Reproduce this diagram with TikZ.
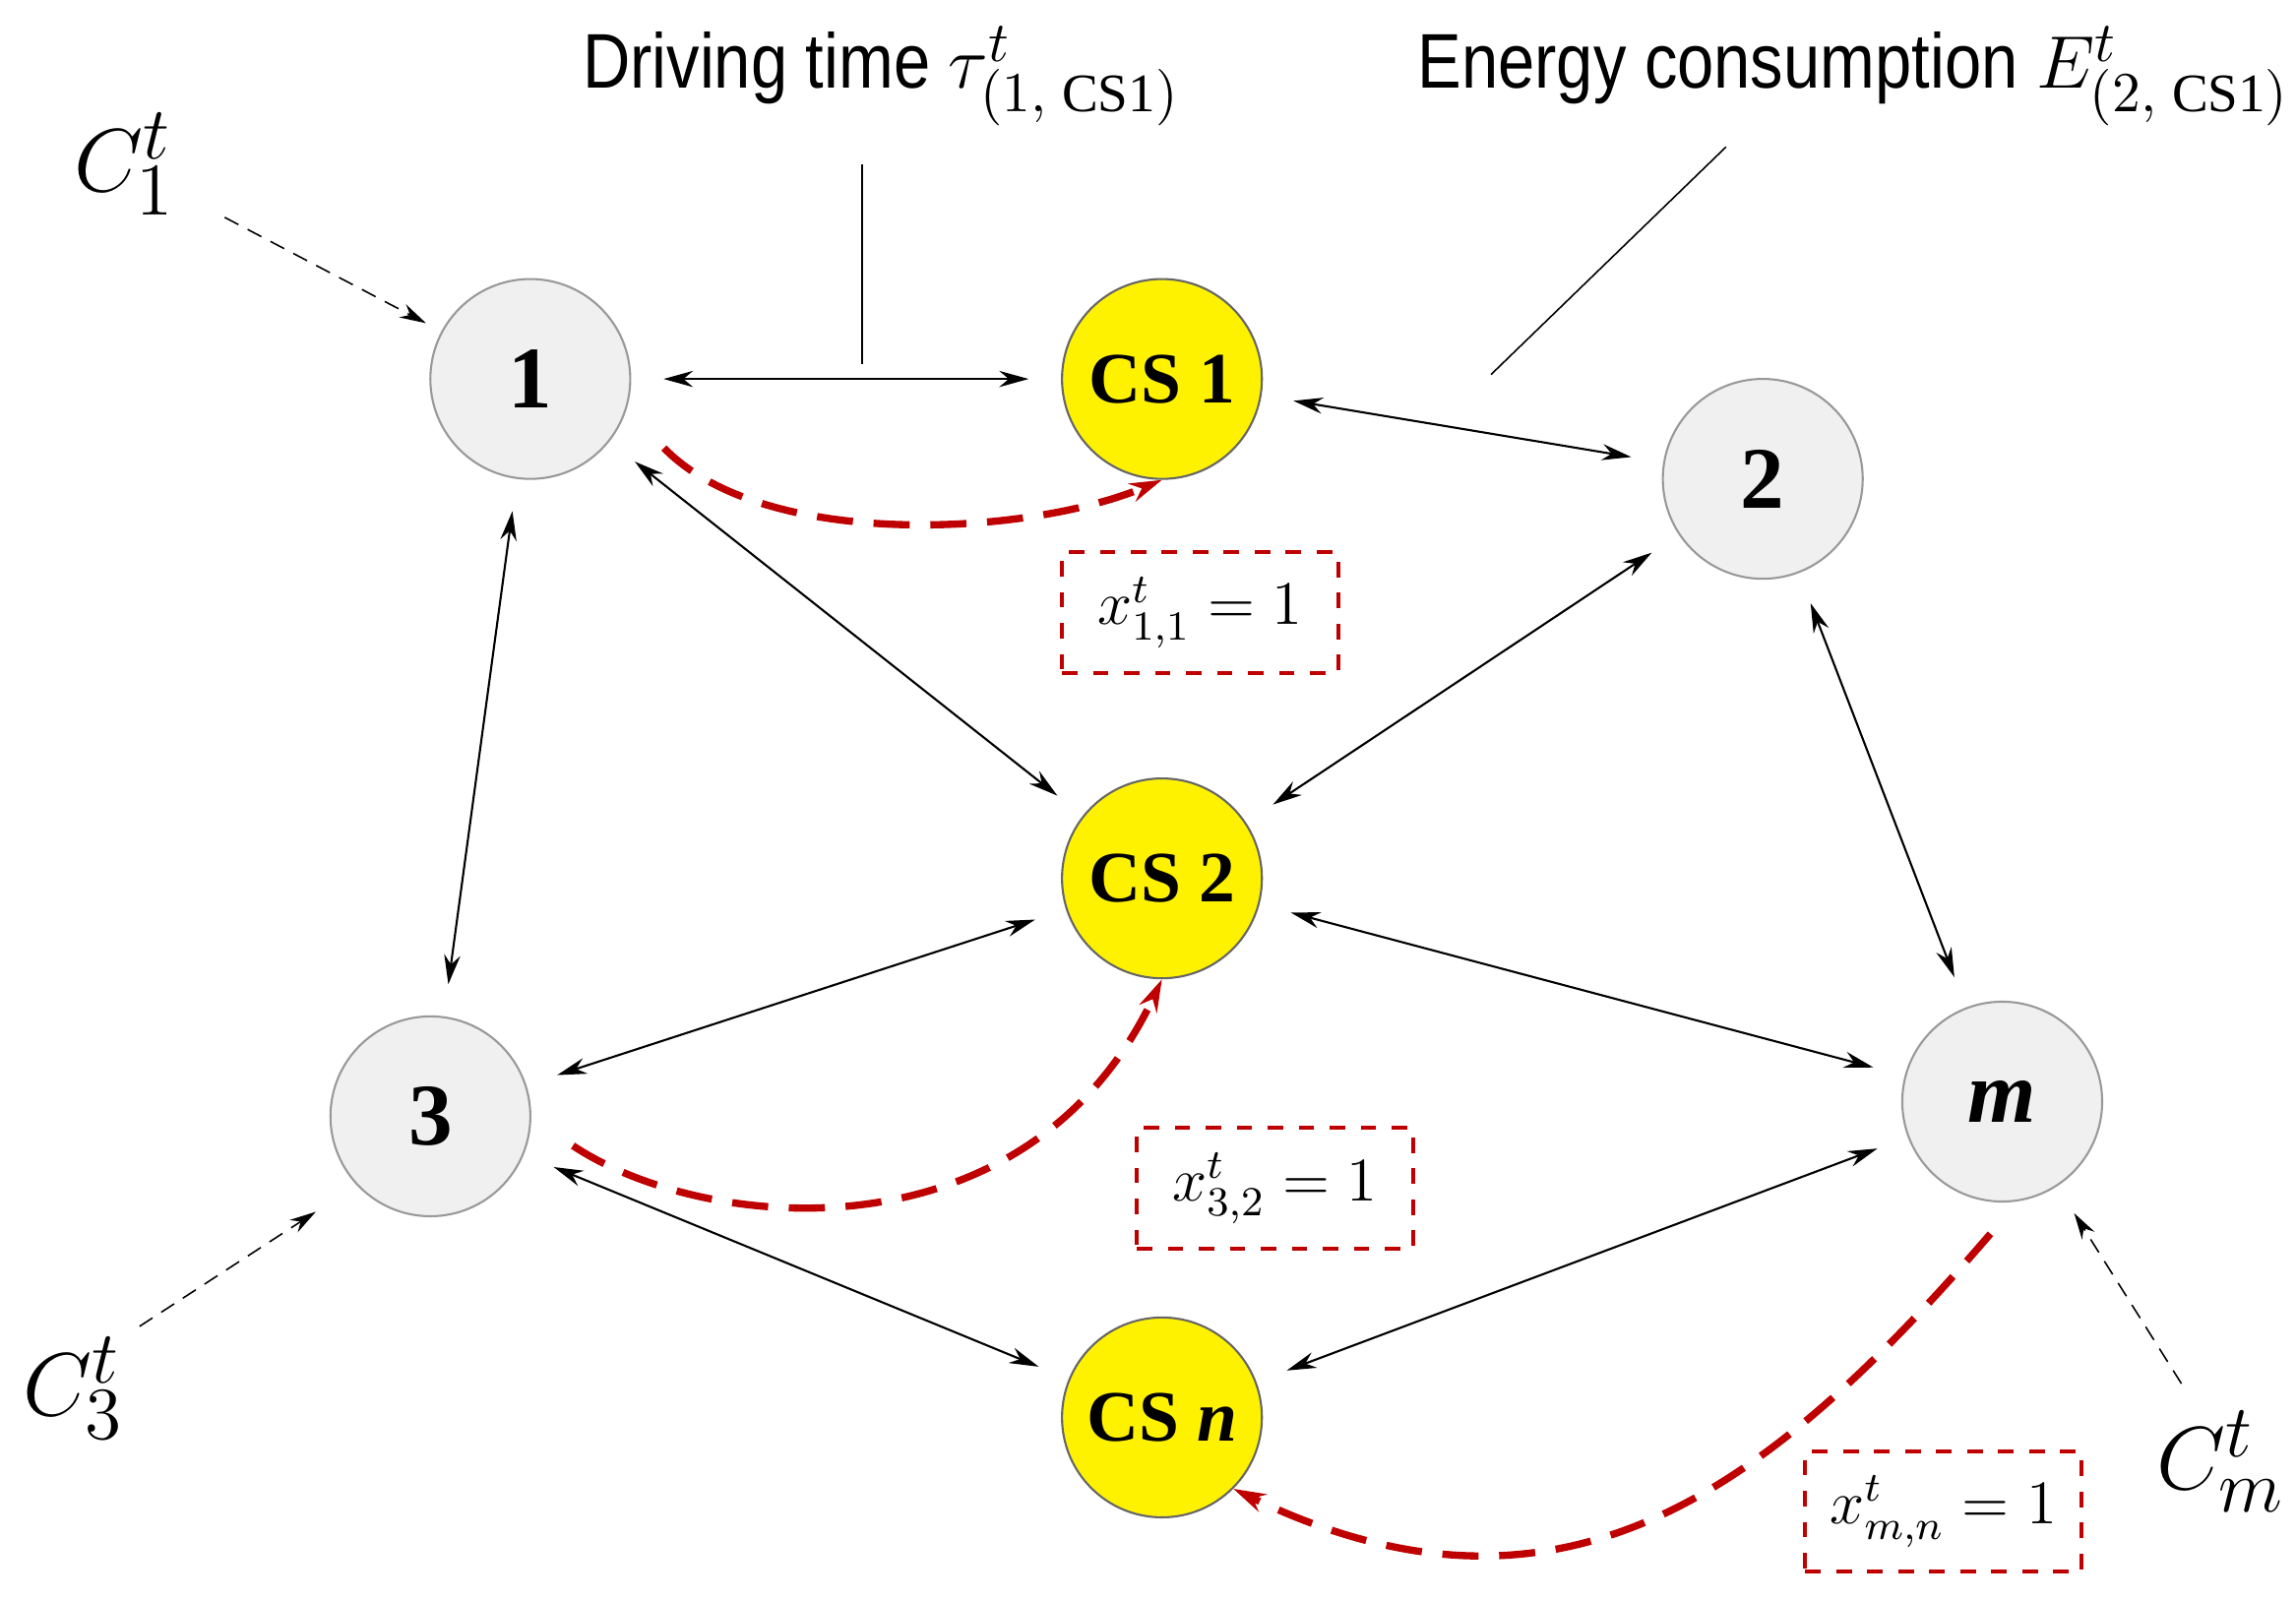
\documentclass[tikz,border=0pt]{standalone}
\usepackage{fontspec}
\setmainfont{Liberation Serif}
\newfontfamily\annot{Liberation Sans}[FakeStretch=0.85]
\usetikzlibrary{arrows.meta}
\begin{document}
\begin{tikzpicture}[x=0.01cm,y=-0.01cm,
 nd/.style={circle,draw=gray!80,fill=gray!12,minimum size=1.36cm,inner sep=0pt,font=\fontsize{17}{17}\selectfont\bfseries},
 cs/.style={nd,fill=yellow,draw=black!60,font=\fontsize{14}{14}\selectfont\bfseries},
 lk/.style={{Stealth[length=0.2cm,width=0.11cm]}-{Stealth[length=0.2cm,width=0.11cm]},line width=0.4pt,shorten <=0.22cm,shorten >=0.22cm},
 sel/.style={-{Stealth[length=0.22cm,width=0.13cm]},draw=red!75!black,line width=1.4pt,dash pattern=on 7pt off 4pt},
 box/.style={draw=red!75!black,dashed,line width=0.8pt,minimum width=1.88cm,minimum height=0.82cm,font=\fontsize{12}{12}\selectfont},
 car/.style={-{Stealth[length=0.18cm,width=0.1cm]},densely dashed,line width=0.3pt},
 ann/.style={font=\fontsize{15}{16}\selectfont},
 cc/.style={font=\fontsize{19}{19}\selectfont}]
\useasboundingbox (0,0) rectangle (1563,1090);
\node[nd] (n1) at (361,258) {1};
\node[cs] (c1) at (791,258) {CS 1};
\node[nd] (n2) at (1200,326) {2};
\node[cs] (c2) at (791,598) {CS 2};
\node[nd] (n3) at (293,760) {3};
\node[nd] (nm) at (1363,750) {\textit{m}};
\node[cs] (cn) at (791,965) {CS \textit{n}};
\draw[lk] (n1)--(c1);
\draw[lk] (c1)--(n2);
\draw[lk] (n1)--(n3);
\draw[lk] (n1)--(c2);
\draw[lk] (n2)--(c2);
\draw[lk] (n2)--(nm);
\draw[lk] (c2)--(n3);
\draw[lk] (c2)--(nm);
\draw[lk] (n3)--(cn);
\draw[lk] (nm)--(cn);
\coordinate (s1) at (452,305);
\coordinate (s3) at (390,780);
\coordinate (sm) at (1355,840);
\draw[sel] (s1) .. controls (520,375) and (700,365) .. (c1.south);
\draw[sel] (s3) .. controls (480,840) and (700,860) .. (c2.south);
\draw[sel] (sm) .. controls (1200,1020) and (1060,1120) .. (cn.south east);
\node[box] (b1) at (817,417) {$x^t_{1,1}=1$};
\node[box] (b2) at (868,809) {$x^t_{3,2}=1$};
\node[box] (b3) at (1323,1029) {$x^t_{m,n}=1$};
\node[ann] (dt) at (600,52) {\annot Driving time $\tau^t_{(1,\;\mathrm{CS1})}$};
\node[ann] (ec) at (1262,52) {\annot Energy consumption $E^t_{(2,\;\mathrm{CS1})}$};
\coordinate (d1) at (587,112); \coordinate (d2) at (587,248);
\coordinate (e1) at (1175,100); \coordinate (e2) at (1015,255);
\draw[line width=0.3pt] (d1)--(d2);
\draw[line width=0.3pt] (e1)--(e2);
\node[cc] (k1) at (85,112) {$C^t_1$};
\node[cc] (k3) at (50,945) {$C^t_3$};
\node[cc] (km) at (1512,995) {$C^t_m$};
\coordinate (a1) at (153,148); \coordinate (a3) at (95,903); \coordinate (am) at (1485,942);
\draw[car] (a1)--(290,220);
\draw[car] (a3)--(215,825);
\draw[car] (am)--(1412,826);
\end{tikzpicture}
\end{document}
